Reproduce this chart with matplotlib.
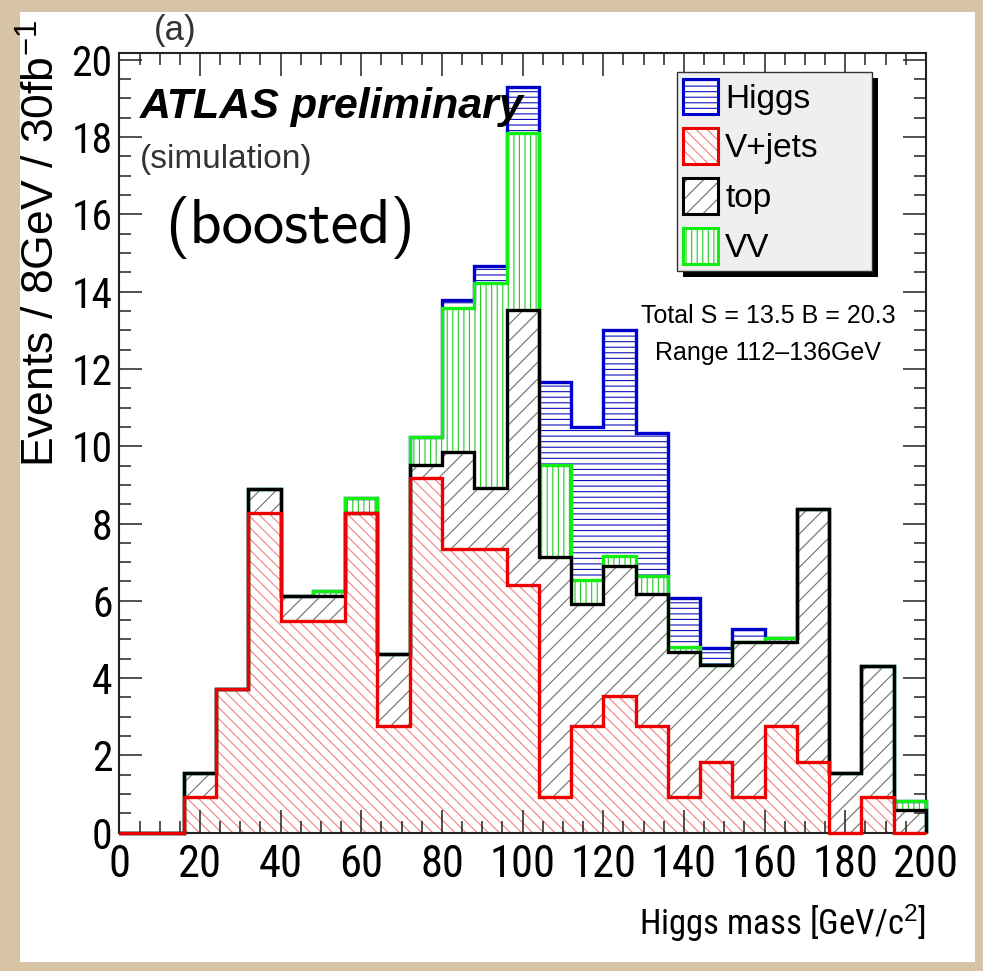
import numpy as np
import matplotlib
matplotlib.use("Agg")
import matplotlib.pyplot as plt
import matplotlib.font_manager as fm
from matplotlib.patches import Rectangle
from matplotlib.ticker import MultipleLocator

# 8 GeV bins from 0 to 200 GeV
edges = np.arange(0, 201, 8)

# events per bin for each sample (30 fb^-1)
vjets = [0, 0, 0.93, 3.71, 8.28, 5.49, 5.49, 8.28, 2.77, 9.17, 7.34, 7.34, 6.42,
         0.93, 2.77, 3.53, 2.77, 0.93, 1.84, 0.93, 2.77, 1.84, 0, 0.93, 0]
top = [0, 0, 0.61, 0, 0.60, 0.64, 0.64, 0, 1.85, 0.34, 2.52, 1.57, 7.10,
       6.21, 3.14, 3.37, 3.41, 3.74, 2.50, 4.01, 2.17, 6.53, 1.54, 3.39, 0.60]
vv = [0, 0, 0, 0, 0, 0, 0.12, 0.39, 0, 0.72, 3.71, 5.30, 4.58,
      2.37, 0.63, 0.26, 0.46, 0.14, 0, 0, 0.11, 0, 0, 0, 0.23]
higgs = [0, 0, 0, 0, 0, 0, 0, 0, 0, 0, 0.21, 0.45, 1.19,
         2.16, 3.96, 5.85, 3.69, 1.25, 0.43, 0.33, 0, 0, 0, 0, 0]

legend_names = ["Higgs", "V+jets", "top", "VV"]
summary_lines = ["Total S = 13.5 B = 20.3", "Range 112\u2013136GeV"]


def pick_font(*names):
    avail = {f.name for f in fm.fontManager.ttflist}
    for n in names:
        if n in avail:
            return n
    return "DejaVu Sans"


def find_narrow():
    # a condensed sans for the axis numbers, if one is installed
    fonts = [f for f in fm.fontManager.ttflist
             if f.style == "normal" and f.weight in (400, "normal", "regular", "book")]
    for name in ("Liberation Sans Narrow", "Arial Narrow", "Roboto Condensed",
                 "Open Sans Condensed"):
        for f in fonts:
            if f.name == name:
                return f.fname
    for f in fonts:
        if f.name in ("Noto Sans", "Roboto", "Open Sans", "Liberation Sans") and \
                str(f.stretch) in ("condensed", "semi-condensed"):
            return f.fname
    for f in fonts:
        base = f.fname.rsplit("/", 1)[-1]
        if ("Narrow" in base or "Condensed" in base) and "DejaVu" not in base \
                and not any(k in base for k in ("Bold", "Italic", "Light", "Thin", "Black", "Medium", "Extra", "Semi")):
            return f.fname
    return None


sans = pick_font("Liberation Sans", "Arial", "DejaVu Sans")
narrow_file = find_narrow()
has_narrow = narrow_file is not None


def axis_font(size_narrow, size_plain):
    if has_narrow:
        return fm.FontProperties(fname=narrow_file, size=size_narrow)
    return fm.FontProperties(family=sans, size=size_plain)


plt.rcParams["font.family"] = [sans, "DejaVu Sans"]
plt.rcParams["mathtext.fontset"] = "custom"
plt.rcParams["mathtext.rm"] = sans
plt.rcParams["mathtext.it"] = sans + ":italic"
plt.rcParams["mathtext.bf"] = sans + ":bold"
plt.rcParams["hatch.linewidth"] = 0.8

# sample styles: (values, hatch, hatch colour, line colour)
styles = [
    (vjets, "\\\\\\", "#f08080", "#ee0000"),
    (top, "//", "#6e6e6e", "#000000"),
    (vv, "|||", "#22cc22", "#11ee11"),
    (higgs, "---", "#1010c0", "#0000cc"),
]

fig = plt.figure(figsize=(9.83, 9.71), dpi=100)
fig.patch.set_facecolor("#d7c3a5")
fig.add_artist(Rectangle((0.0203, 0.0093), 0.9716, 0.9783, transform=fig.transFigure,
                         facecolor="white", edgecolor="none", zorder=-10))

ax = fig.add_axes([0.1214, 0.1424, 0.8206, 0.8033])

# hatched fills, stacked
bottom = np.zeros(len(edges) - 1)
cums = []
for vals, hatch, hcol, lcol in styles:
    vals = np.asarray(vals, dtype=float)
    ax.bar(edges[:-1], vals, width=8, bottom=bottom, align="edge",
           facecolor="none", edgecolor=hcol, hatch=hatch, linewidth=0, zorder=1)
    bottom = bottom + vals
    cums.append((bottom.copy(), lcol))

# outlines of the cumulative histograms, top of the stack first
for cum, lcol in reversed(cums):
    ax.stairs(cum, edges, baseline=0, color=lcol, linewidth=2.4, zorder=3,
              clip_on=False)

ax.set_xlim(0, 200)
ax.set_ylim(0, 20.18)
ax.xaxis.set_major_locator(MultipleLocator(20))
ax.xaxis.set_minor_locator(MultipleLocator(5))
ax.yaxis.set_major_locator(MultipleLocator(2))
ax.yaxis.set_minor_locator(MultipleLocator(0.5))
ax.tick_params(which="both", direction="in", top=True, right=True,
               color="#222222", width=1.1)
ax.tick_params(which="major", length=16.5)
ax.tick_params(which="minor", length=8.6)
ax.tick_params(axis="x", pad=8)
ax.tick_params(axis="y", pad=5)
plt.setp(ax.get_xticklabels(), fontproperties=axis_font(32, 26))
plt.setp(ax.get_yticklabels(), fontproperties=axis_font(30, 25))
for s in ax.spines.values():
    s.set_linewidth(1.5)
    s.set_color("#222222")

# axis titles
fig.text(42 / 983, 1 - 20 / 971, "Events / 8GeV / 30fb$^{-1}$", rotation=90,
         ha="center", va="top", family=sans, size=32)
fig.text(926 / 983, (971 - 935) / 971, "Higgs mass [GeV/c$^2$]", ha="right",
         va="baseline", fontproperties=axis_font(25, 22))
fig.text(175 / 983, 0.959, "(a)", ha="center", va="baseline", family=sans,
         size=25, color="#333333")

# labels inside the frame
ax.text(0.026, 0.916, "ATLAS preliminary", transform=ax.transAxes, family=sans,
        weight="bold", style="italic", size=31, zorder=6)
ax.text(0.026, 0.852, "(simulation)", transform=ax.transAxes, family=sans,
        size=24, color="#333333", zorder=6)
ax.text(0.0567, 0.756, "(boosted)", transform=ax.transAxes, family="cmss10",
        size=45, zorder=6)
for i, line in enumerate(summary_lines):
    ax.text(0.804, 0.653 - 0.047 * i, line, transform=ax.transAxes, ha="center",
            va="baseline", family=sans, size=18, zorder=6)

# legend box with drop shadow
lx, ly, lw, lh = 0.691, 0.720, 0.242, 0.255
ax.add_patch(Rectangle((lx + 0.0074, ly - 0.0077), lw, lh, transform=ax.transAxes,
                       facecolor="black", edgecolor="none", zorder=7, clip_on=False))
ax.add_patch(Rectangle((lx, ly), lw, lh, transform=ax.transAxes, facecolor="#efefef",
                       edgecolor="#333333", linewidth=1, zorder=8, clip_on=False))
legend_styles = [styles[3], styles[0], styles[1], styles[2]]
for i, (name, (_, hatch, hcol, lcol)) in enumerate(zip(legend_names, legend_styles)):
    cy = (832.7 - (96.5 + 49.7 * i)) / 780
    sx, sw, sh = 0.699, 0.0434, 0.046
    ax.add_patch(Rectangle((sx, cy - sh / 2), sw, sh, transform=ax.transAxes,
                           facecolor="white", edgecolor=hcol, hatch=hatch,
                           linewidth=0, zorder=9, clip_on=False))
    ax.add_patch(Rectangle((sx, cy - sh / 2), sw, sh, transform=ax.transAxes,
                           facecolor="none", edgecolor=lcol, linewidth=2.2,
                           zorder=10, clip_on=False))
    ax.text(0.751, cy - 11 / 780, name, transform=ax.transAxes, va="baseline",
            family=sans, size=24, zorder=10)

fig.savefig("out.png", dpi=100)
